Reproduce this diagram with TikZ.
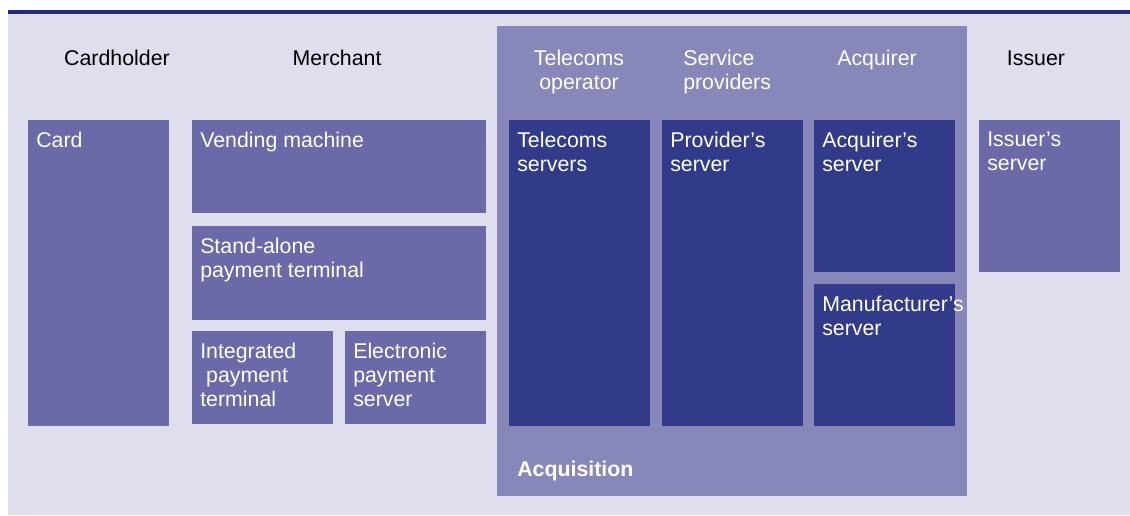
\documentclass[tikz,border=0pt]{standalone}
\usepackage{fontspec}
\setmainfont{Liberation Sans}
\definecolor{bgc}{RGB}{223,222,236}
\definecolor{linec}{RGB}{33,43,128}
\definecolor{midc}{RGB}{107,105,168}
\definecolor{acqc}{RGB}{136,135,186}
\definecolor{darkc}{RGB}{49,59,138}
\tikzset{
  box/.style={fill=midc, draw=none, anchor=north west, inner sep=0pt},
  dbox/.style={fill=darkc, draw=none, anchor=north west, inner sep=0pt},
  btxt/.style={anchor=north west, inner sep=0pt, text=white, align=left, font=\fontsize{16}{18}\selectfont},
  head/.style={inner sep=0pt, text=black, align=center, font=\fontsize{16}{18}\selectfont},
  whead/.style={inner sep=0pt, text=white, font=\fontsize{16}{18}\selectfont},
}
\begin{document}
\begin{tikzpicture}[x=0.75pt,y=-0.75pt]
\useasboundingbox (0,0) rectangle (1130,515);
\fill[white] (0,0) rectangle (1130,515);
\fill[bgc] (8,13) rectangle (1130,515);
\fill[linec] (8,10) rectangle (1130,13.5);
\node[fill=acqc, anchor=north west, inner sep=0pt, minimum width=470*0.75pt, minimum height=470*0.75pt] (acq) at (497,26) {};
% headers
\node[head] (hcard) at (117,58) {Cardholder};
\node[head] (hmer) at (337,58) {Merchant};
\node[whead, align=center] (htel) at (579,72) {Telecoms\\operator};
\node[whead, align=left, anchor=west] (hsp) at (683,72) {Service\\providers};
\node[whead] (hacq) at (877,60) {Acquirer};
\node[head] (hiss) at (1036,58) {Issuer};
% boxes
\node[box, minimum width=141*0.75pt, minimum height=306*0.75pt] (card) at (28,120) {};
\node[box, minimum width=294*0.75pt, minimum height=93*0.75pt] (vend) at (192,120) {};
\node[box, minimum width=294*0.75pt, minimum height=94*0.75pt] (stand) at (192,226) {};
\node[box, minimum width=141*0.75pt, minimum height=93*0.75pt] (integ) at (192,331) {};
\node[box, minimum width=141*0.75pt, minimum height=93*0.75pt] (elec) at (345,331) {};
\node[dbox, minimum width=141*0.75pt, minimum height=306*0.75pt] (tel) at (509,120) {};
\node[dbox, minimum width=141*0.75pt, minimum height=306*0.75pt] (prov) at (662,120) {};
\node[dbox, minimum width=141*0.75pt, minimum height=152*0.75pt] (acqs) at (814,120) {};
\node[dbox, minimum width=141*0.75pt, minimum height=142*0.75pt] (manu) at (814,284) {};
\node[box, minimum width=141*0.75pt, minimum height=152*0.75pt] (iss) at (979,120) {};
% texts
\node[btxt] (tcard) at ([xshift=8*0.75pt,yshift=-12*0.75pt]card.north west) {Card};
\node[btxt] (tvend) at ([xshift=8*0.75pt,yshift=-12*0.75pt]vend.north west) {Vending machine};
\node[btxt] (tstand) at ([xshift=8*0.75pt,yshift=-12*0.75pt]stand.north west) {Stand-alone\\payment terminal};
\node[btxt] (tinteg) at ([xshift=8*0.75pt,yshift=-12*0.75pt]integ.north west) {Integrated\\\ payment\\terminal};
\node[btxt] (telec) at ([xshift=8*0.75pt,yshift=-12*0.75pt]elec.north west) {Electronic\\payment\\server};
\node[btxt] (ttel) at ([xshift=8*0.75pt,yshift=-12*0.75pt]tel.north west) {Telecoms\\servers};
\node[btxt] (tprov) at ([xshift=8*0.75pt,yshift=-12*0.75pt]prov.north west) {Provider’s\\server};
\node[btxt] (tacqs) at ([xshift=8*0.75pt,yshift=-12*0.75pt]acqs.north west) {Acquirer’s\\server};
\node[btxt] (tmanu) at ([xshift=8*0.75pt,yshift=-12*0.75pt]manu.north west) {Manufacturer’s\\server};
\node[btxt] (tiss) at ([xshift=8*0.75pt,yshift=-12*0.75pt]iss.north west) {Issuer’s\\server};
\node[whead, anchor=west, font=\fontsize{16}{18}\selectfont\bfseries] (tacq) at (517,471) {Acquisition};
\end{tikzpicture}
\end{document}
